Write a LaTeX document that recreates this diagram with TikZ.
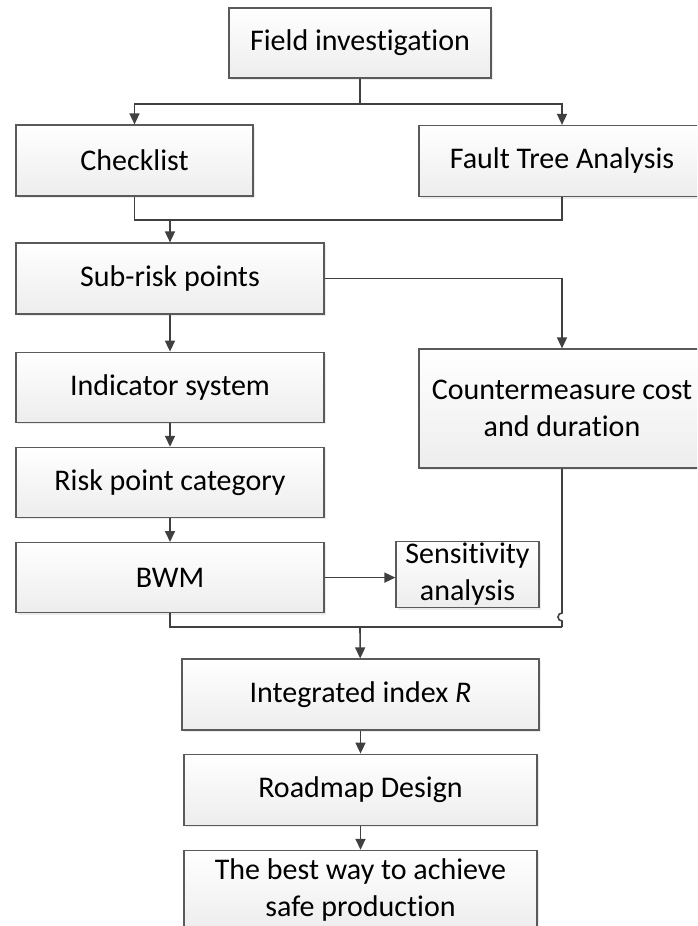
\documentclass[tikz,border=0pt]{standalone}
\usepackage{fontspec}
\setmainfont[Ligatures=NoCommon]{Carlito}
\usetikzlibrary{positioning,arrows.meta,shadows}
\definecolor{edge}{HTML}{5A5A5A}
\definecolor{wire}{HTML}{404040}
\definecolor{boxbot}{HTML}{EDEDED}
\tikzset{
  box/.style={rectangle,draw=edge,line width=0.6pt,top color=white,bottom color=boxbot,
    align=center,inner sep=1pt,font=\fontsize{15}{18.5}\selectfont,minimum height=35pt,
    drop shadow={shadow xshift=1pt,shadow yshift=-1pt,opacity=0.3,fill=black!25}},
  ln/.style={draw=wire,line width=0.8pt},
  fl/.style={ln,-{Triangle[length=5.5pt,width=5pt]}},
}

\begin{document}
\begin{tikzpicture}[x=0.5pt,y=-0.5pt]
  \clip (0,0) rectangle (697,926);
  % top part
  \node[box,minimum width=131pt] (fi) at (360,43) {Field investigation};
  \node[box,minimum width=118.5pt,minimum height=35.5pt] (cl) at (134.5,160.5) {Checklist};
  \node[box,minimum width=143pt,minimum height=35.5pt] (fta) at (562,161) {Fault Tree Analysis};
  \node[box,minimum width=154pt,minimum height=35.5pt] (sr) at (170,278.5) {Sub-risk points};
  \node[box,minimum width=143pt,minimum height=59.5pt] (cm) at (562,408.5) {Countermeasure cost\\and duration};
  % left column
  \node[box,minimum width=154pt,below=18.5pt of sr] (ind) {Indicator system};
  \node[box,minimum width=154pt,below=12pt of ind] (rpc) {Risk point category};
  \node[box,minimum width=154pt,below=12pt of rpc] (bwm) {BWM};
  \node[box,minimum width=71.5pt,minimum height=33pt] (sens) at (467.5,574.5) {Sensitivity\\analysis};
  % bottom part
  \node[box,minimum width=178.5pt,minimum height=35.5pt] (ir) at (360.5,694.5) {Integrated index \textit{R}};
  \node[box,minimum width=176.5pt,minimum height=35.5pt,below=11.5pt of ir] (rd) {Roadmap Design};
  \node[box,minimum width=176.5pt,minimum height=40pt,below=12pt of rd] (bw) {The best way to achieve\\safe production};

  \coordinate (s1) at (360,104);
  \coordinate (j1) at (170,220);
  \coordinate (hop) at (562,613);
  \coordinate (m) at (360,627);

  \draw[ln] (fi) -- (s1);
  \draw[fl] (s1) -| (cl);
  \draw[fl] (s1) -| (fta);
  \draw[ln] (cl.south) -- (cl.south |- j1) -- (fta.south |- j1) -- (fta.south);
  \draw[fl] (j1) -- (sr);
  \draw[fl] (sr) -| (cm);
  \draw[fl] (sr) -- (ind);
  \draw[fl] (ind) -- (rpc);
  \draw[fl] (rpc) -- (bwm);
  \draw[fl] (bwm) -- (bwm -| sens.west);
  \draw[ln] (bwm.south) |- (cm.south |- m);
  \draw[ln] (cm.south) -- (hop) arc[start angle=90,end angle=270,radius=2pt] -- (cm.south |- m);
  \draw[fl] (m) -- (ir);
  \draw[fl] (ir) -- (rd);
  \draw[fl] (rd) -- (bw);
\end{tikzpicture}
\end{document}
